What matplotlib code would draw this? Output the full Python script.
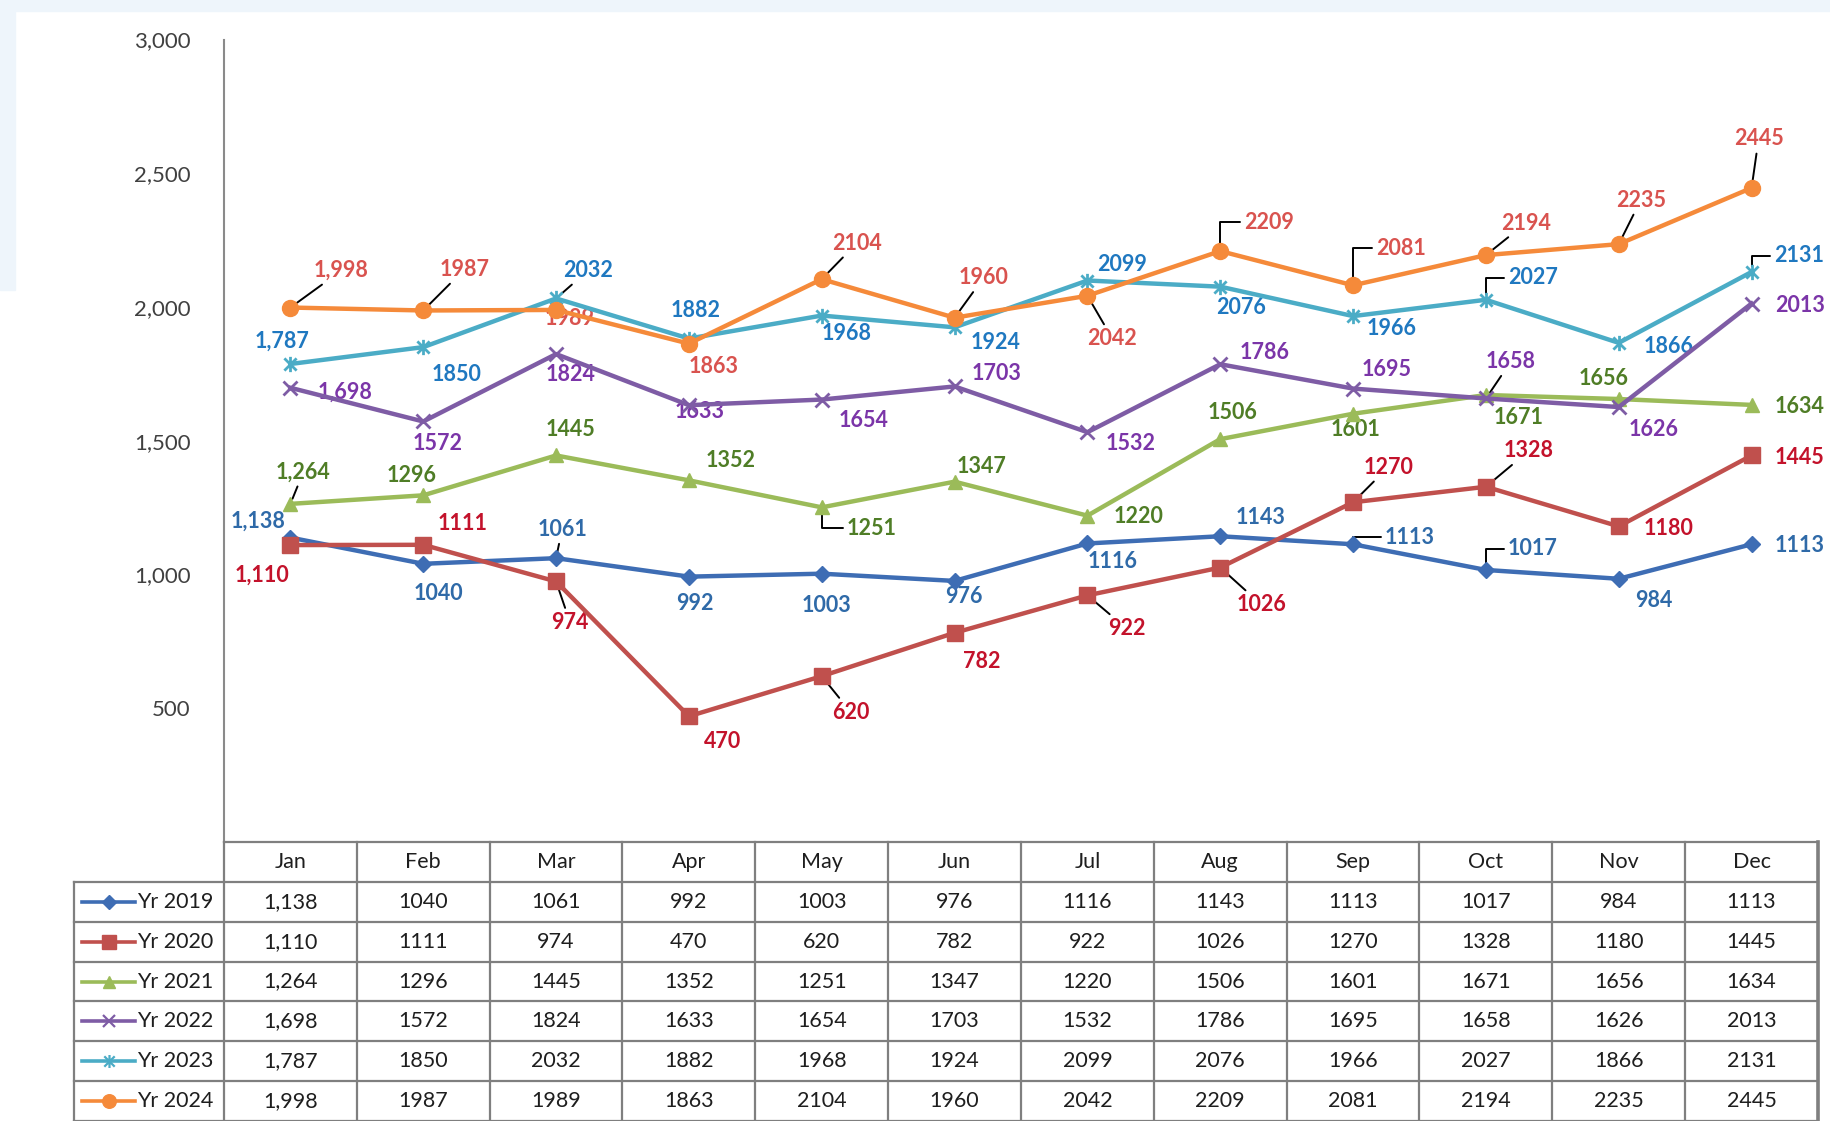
import numpy as np
import matplotlib
matplotlib.use("Agg")
import matplotlib.pyplot as plt
from matplotlib.patches import Rectangle
from matplotlib.path import Path
from matplotlib.ticker import FuncFormatter

plt.rcParams['font.family'] = ['Lato', 'DejaVu Sans']

# data
months = ['Jan', 'Feb', 'Mar', 'Apr', 'May', 'Jun', 'Jul', 'Aug', 'Sep', 'Oct', 'Nov', 'Dec']
series_names = ['Yr 2019', 'Yr 2020', 'Yr 2021', 'Yr 2022', 'Yr 2023', 'Yr 2024']
yr2019 = [1138, 1040, 1061, 992, 1003, 976, 1116, 1143, 1113, 1017, 984, 1113]
yr2020 = [1110, 1111, 974, 470, 620, 782, 922, 1026, 1270, 1328, 1180, 1445]
yr2021 = [1264, 1296, 1445, 1352, 1251, 1347, 1220, 1506, 1601, 1671, 1656, 1634]
yr2022 = [1698, 1572, 1824, 1633, 1654, 1703, 1532, 1786, 1695, 1658, 1626, 2013]
yr2023 = [1787, 1850, 2032, 1882, 1968, 1924, 2099, 2076, 1966, 2027, 1866, 2131]
yr2024 = [1998, 1987, 1989, 1863, 2104, 1960, 2042, 2209, 2081, 2194, 2235, 2445]
all_series = [yr2019, yr2020, yr2021, yr2022, yr2023, yr2024]
y_ticks = [500, 1000, 1500, 2000, 2500, 3000]

# excel style "star" marker: an x with a vertical bar through it
star = Path([(-1, -1), (1, 1), (-1, 1), (1, -1), (0, -1.25), (0, 1.25)],
            [Path.MOVETO, Path.LINETO, Path.MOVETO, Path.LINETO, Path.MOVETO, Path.LINETO])

# styles
line_colors = ['#3e6db4', '#c0504d', '#9bbb59', '#7e5ca5', '#4bacc6', '#f58a3a']
label_colors = ['#2f6aa8', '#c3122b', '#4f7d26', '#7b35a8', '#1f78c0', '#d9534f']
markers = ['D', 's', '^', 'x', star, 'o']
msizes = [8.5, 11.5, 10.5, 10, 11, 11.5]
thin = [False, False, False, True, True, False]

# label offsets in pixels (dx, dy) per series / month
offsets = [
    [(-32, 16), (15, -30), (6, 29), (6, -27), (5, -32), (9, -16), (25, -18), (40, 19), (57, 7), (47, 21), (35, -22), (48, -1)],
    [(-28, -30), (39, 21), (14, -41), (34, -25), (29, -36), (27, -29), (39, -33), (41, -37), (35, 35), (43, 36), (50, -2), (48, -2)],
    [(13, 32), (-12, 20), (14, 26), (42, 20), (50, -21), (27, 15), (51, -1), (12, 27), (2, -16), (33, -22), (-15, 21), (48, -2)],
    [(55, -4), (14, -22), (14, -20), (11, -6), (42, -21), (42, 13), (43, -11), (44, 12), (34, 19), (25, 37), (35, -22), (48, -2)],
    [(-8, 23), (33, -27), (32, 28), (7, 28), (25, -18), (41, -15), (35, 16), (21, -21), (39, -12), (47, 22), (50, -4), (48, 16)],
    [(51, 37), (41, 41), (14, -9), (25, -23), (35, 36), (29, 40), (25, -43), (49, 29), (48, 37), (40, 32), (22, 44), (7, 49)],
]
# leader lines: (series index, month index, kind)
leaders = [
    (5, 0, 'line'), (5, 1, 'line'), (5, 4, 'line'), (5, 5, 'line'), (5, 6, 'line'),
    (5, 7, 'elbow'), (5, 8, 'elbow'), (5, 9, 'line'), (5, 10, 'line'), (5, 11, 'line'),
    (4, 2, 'line'), (4, 9, 'elbow'), (4, 11, 'elbow'),
    (3, 9, 'line'),
    (2, 0, 'line'), (2, 4, 'elbow'),
    (1, 2, 'line'), (1, 4, 'line'), (1, 6, 'line'), (1, 7, 'line'), (1, 8, 'line'), (1, 9, 'line'),
    (0, 2, 'line'), (0, 8, 'elbow'), (0, 9, 'elbow'),
]
leader_map = {(s, m): k for s, m, k in leaders}

W, H = 1831, 1121
fig = plt.figure(figsize=(W / 100, H / 100), dpi=100)
fig.patch.set_facecolor('white')
band = '#eef5fb'
fig.add_artist(Rectangle((0, 1 - 11 / H), 1, 11 / H, transform=fig.transFigure, color=band, zorder=0))
fig.add_artist(Rectangle((0, 1 - 290 / H), 15 / W, 290 / H, transform=fig.transFigure, color=band, zorder=0))

x0, x1 = 224, 1818
ytop, ybot = 39.5, 842
ax = fig.add_axes([x0 / W, 1 - ybot / H, (x1 - x0) / W, (ybot - ytop) / H])
ax.set_facecolor('none')
x = np.arange(len(months))

for i, vals in enumerate(all_series):
    ax.plot(x, vals, color=line_colors[i], lw=3.2, marker=markers[i], ms=msizes[i],
            mfc=line_colors[i], mec=line_colors[i], mew=2 if thin[i] else 1,
            zorder=3 + i)

for i, vals in enumerate(all_series):
    for j, v in enumerate(vals):
        txt = f'{v:,}' if j == 0 else str(v)
        kind = leader_map.get((i, j))
        props = None
        if kind == 'line':
            props = dict(arrowstyle='-', color='black', lw=1.4, shrinkA=1, shrinkB=4)
        elif kind == 'elbow':
            props = dict(arrowstyle='-', color='black', lw=1.4, shrinkA=1, shrinkB=4,
                         connectionstyle='angle,angleA=0,angleB=90,rad=0')
        ax.annotate(txt, (j, v), xytext=offsets[i][j], textcoords='offset pixels',
                    ha='center', va='center', fontsize=15.5, fontweight='bold',
                    color=label_colors[i], arrowprops=props, annotation_clip=False,
                    zorder=2)

ax.set_xlim(-0.5, 11.5)
ax.set_ylim(0, 3000)
ax.set_yticks(y_ticks)
ax.yaxis.set_major_formatter(FuncFormatter(lambda v, p: f'{int(v):,}'))
ax.tick_params(axis='y', length=0, pad=24, labelsize=16, labelcolor='#404040')
ax.set_xticks([])
for s in ['top', 'right', 'bottom']:
    ax.spines[s].set_visible(False)
ax.spines['left'].set_color('#8a8a8a')
ax.spines['left'].set_linewidth(1.5)

# data table below the chart
unit = (x1 - x0) / 12
tleft = 74
xl = -0.5 - (x0 - tleft) / unit
tax = fig.add_axes([tleft / W, 0, (x1 - tleft) / W, (H - ybot) / H])
tax.set_xlim(xl, 11.5)
tax.set_ylim(7, 0)
tax.axis('off')
gc = '#7f7f7f'
tc = '#1e1e1e'
tax.plot([-0.5, 11.5], [0, 0], color=gc, lw=1.6, clip_on=False)
for r in range(1, 8):
    tax.plot([xl, 11.5], [r, r], color=gc, lw=1.6, clip_on=False)
for k in range(13):
    tax.plot([k - 0.5, k - 0.5], [0, 7], color=gc, lw=2.6 if k == 12 else 1.6, clip_on=False)
tax.plot([xl, xl], [1, 7], color=gc, lw=1.6, clip_on=False)

for j, m in enumerate(months):
    tax.text(j, 0.5, m, ha='center', va='center', fontsize=15.5, color=tc)
for i, vals in enumerate(all_series):
    yr = i + 1.5
    for j, v in enumerate(vals):
        tax.text(j, yr, f'{v:,}' if j == 0 else str(v), ha='center', va='center',
                 fontsize=15.5, color=tc)
    lx0 = xl + 8 / unit
    lx1 = xl + 61 / unit
    tax.plot([lx0, lx1], [yr, yr], color=line_colors[i], lw=2.6, clip_on=False)
    tax.plot([(lx0 + lx1) / 2], [yr], marker=markers[i], ms=msizes[i] * 0.85, color=line_colors[i],
             mew=1.6 if thin[i] else 1, clip_on=False)
    tax.text(xl + 63 / unit, yr, series_names[i], ha='left', va='center',
             fontsize=15.5, color=tc)

fig.savefig('out.png', dpi=100)
